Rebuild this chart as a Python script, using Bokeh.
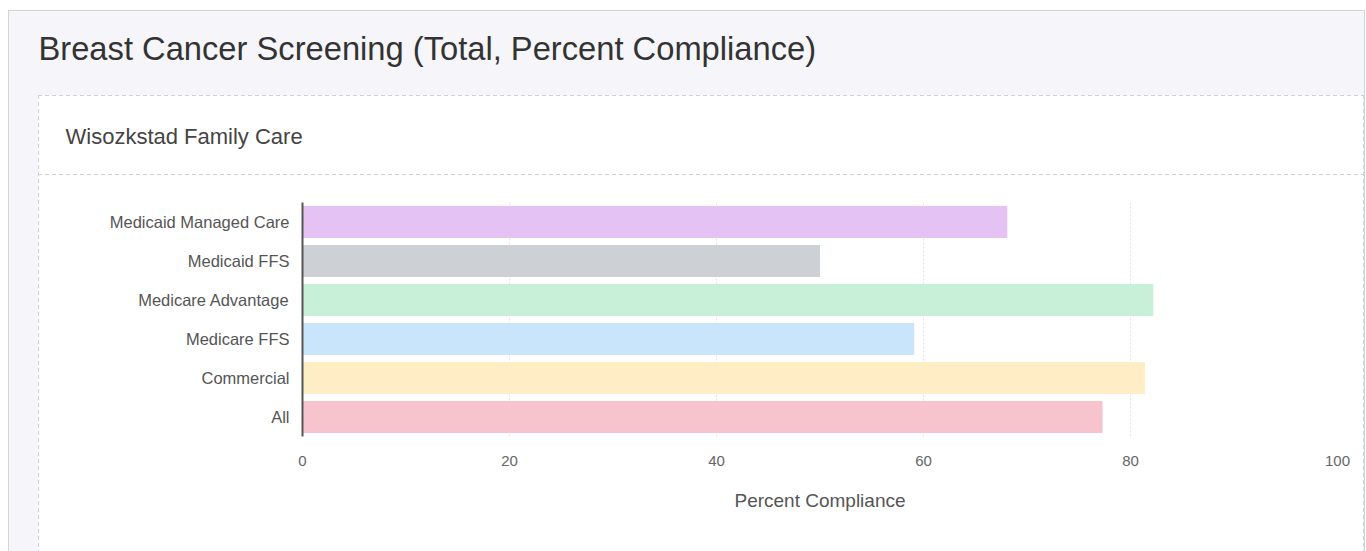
from bokeh.plotting import figure
from bokeh.models import ColumnDataSource, FactorRange, Range1d, Title, FixedTicker
from bokeh.embed import file_html
from bokeh.resources import INLINE

categories = ["All", "Commercial", "Medicare FFS", "Medicare Advantage", "Medicaid FFS", "Medicaid Managed Care"]
values = [77.3, 81.4, 59.1, 82.2, 50.0, 68.1]
colors = ["#f7c4ce", "#ffedc6", "#c9e5fb", "#c8efd7", "#cdd0d5", "#e4c2f3"]
x_ticks = [0, 20, 40, 60, 80, 100]

title_text = "Breast Cancer Screening (Total, Percent Compliance)"
subtitle_text = "Wisozkstad Family Care"
x_label = "Percent Compliance"

W, H = 1366, 551
src = ColumnDataSource(dict(cat=categories, val=values, color=colors))

p = figure(width=W, height=H, output_backend="svg", toolbar_location=None,
           y_range=FactorRange(*categories), x_range=Range1d(0, 100),
           min_border_left=302, min_border_right=29, min_border_top=202, min_border_bottom=115)
p.hbar(y="cat", right="val", left=0, height=0.82, color="color", source=src, line_color=None)

p.background_fill_color = None
p.border_fill_color = None
p.outline_line_color = None

# panel backgrounds drawn with CSS behind the transparent canvas
hdash = "repeating-linear-gradient(to right, #cdd0dc 0 4px, transparent 4px 7px)"
vdash = "repeating-linear-gradient(to bottom, #cdd0dc 0 4px, transparent 4px 7px)"
solid = lambda c: f"linear-gradient({c}, {c})"
layers = [
    (hdash, "38px 174px", "1325px 1px"),       # header divider
    (hdash, "38px 95px", "1325px 1px"),        # inner top
    (vdash, "38px 95px", "1px 456px"),         # inner left
    (vdash, "1363px 95px", "1px 456px"),       # inner right
    (solid("#ffffff"), "38px 95px", "1325px 456px"),
    (solid("#d3d6d6"), "8px 10px", "1357px 1px"),
    (solid("#d3d6d6"), "8px 10px", "1px 541px"),
    (solid("#d3d6d6"), "1364px 10px", "1px 541px"),
    (solid("#f6f6fa"), "8px 10px", "1357px 541px"),
]
p.styles = {
    "background-image": ", ".join(l[0] for l in layers),
    "background-position": ", ".join(l[1] for l in layers),
    "background-size": ", ".join(l[2] for l in layers),
    "background-repeat": "no-repeat",
    "background-color": "#ffffff",
}

# main title (outer panel heading)
p.title.text = title_text
p.title.align = "left"
p.title.offset = -264
p.title.standoff = 2
p.title.text_font = "Liberation Sans"
p.title.text_font_size = "32.7px"
p.title.text_font_style = "normal"
p.title.text_color = "#333333"

# subtitle (inner panel heading), added closest to the frame
sub_title = Title(text=subtitle_text, align="left", offset=-237, standoff=108,
                  text_font="Liberation Sans", text_font_size="22px",
                  text_font_style="normal", text_color="#444444")
p.add_layout(sub_title, "above")

p.xaxis.ticker = FixedTicker(ticks=x_ticks)
p.xaxis.axis_line_color = None
p.xaxis.major_tick_line_color = None
p.xaxis.major_tick_out = 0
p.xaxis.major_tick_in = 0
p.xaxis.minor_tick_line_color = None
p.xaxis.major_label_standoff = 19
p.xaxis.major_label_text_font = "Liberation Sans"
p.xaxis.major_label_text_font_size = "15px"
p.xaxis.major_label_text_color = "#666666"
p.xaxis.axis_label = x_label
p.xaxis.axis_label_text_font = "Liberation Sans"
p.xaxis.axis_label_text_font_size = "19px"
p.xaxis.axis_label_text_font_style = "normal"
p.xaxis.axis_label_text_color = "#555555"
p.xaxis.axis_label_standoff = 21

p.yaxis.axis_line_color = "#555555"
p.yaxis.axis_line_width = 2
p.yaxis.major_tick_line_color = None
p.yaxis.major_tick_out = 0
p.yaxis.major_tick_in = 0
p.yaxis.minor_tick_line_color = None
p.yaxis.major_label_standoff = 13
p.yaxis.major_label_text_font = "Liberation Sans"
p.yaxis.major_label_text_font_size = "16.5px"
p.yaxis.major_label_text_color = "#555555"

p.ygrid.grid_line_color = None
p.xgrid.grid_line_color = "#dde0ee"
p.xgrid.grid_line_dash = "2 2"

open("out.html", "w").write(file_html(p, INLINE))
